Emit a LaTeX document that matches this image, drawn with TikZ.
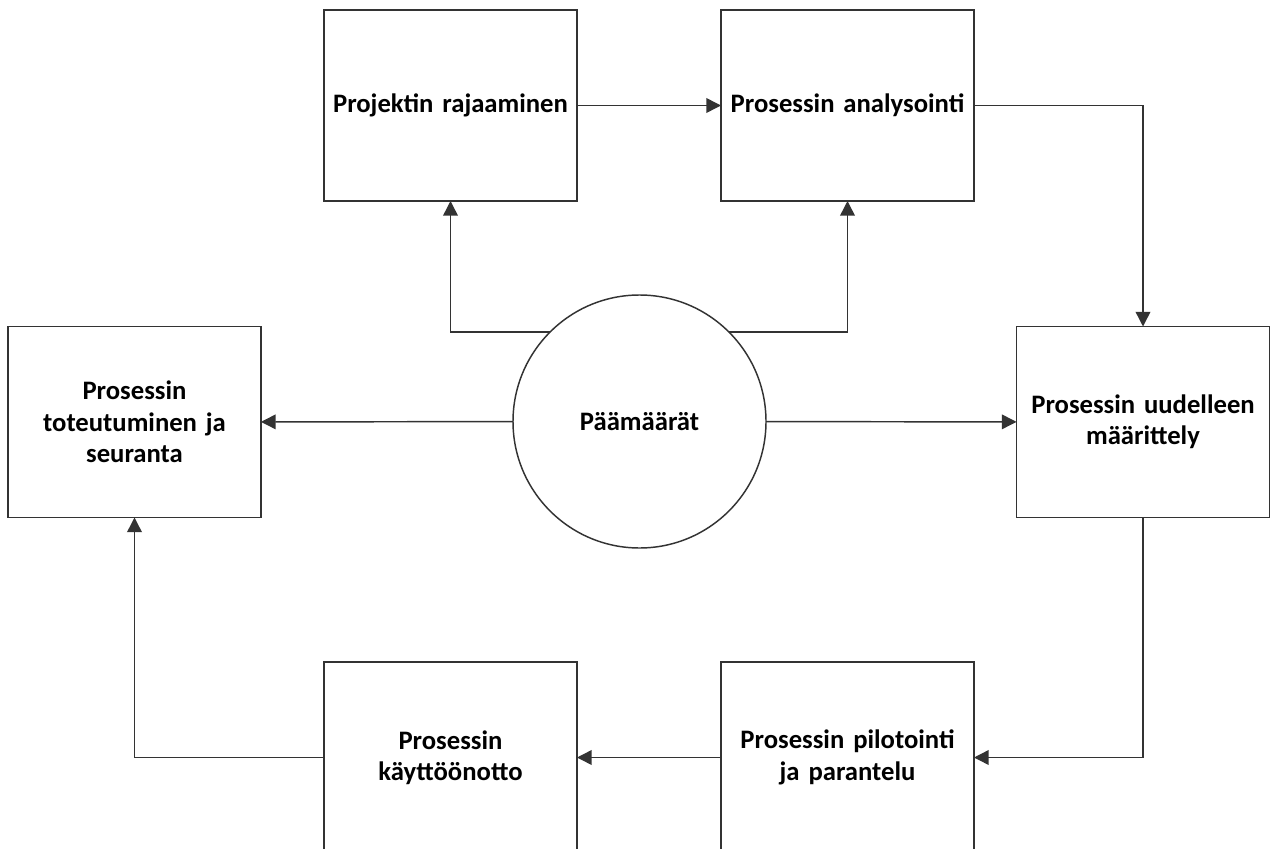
\documentclass[tikz,border=0pt]{standalone}
\usepackage{fontspec}
\setmainfont{Carlito}
\usepackage{tikz}
\usetikzlibrary{arrows.meta, positioning}
\usepackage{xcolor}

\begin{document}
\begin{tikzpicture}[
    x=0.75pt, y=-0.75pt,
    block/.style={
        rectangle,
        draw=black!80,
        line width=1.2pt,
        fill=white,
        text width=186pt,
        align=center,
        minimum width=189.75pt,
        minimum height=143.25pt,
        inner sep=0pt,
        outer sep=0pt,
        font=\fontsize{20}{23.5}\selectfont\bfseries
    },
    goal/.style={
        circle,
        draw=black!80,
        line width=1.1pt,
        minimum size=189.75pt,
        inner sep=0pt,
        outer sep=0pt,
        font=\fontsize{20}{23.5}\selectfont\bfseries
    },
    arrow/.style={-{Triangle[length=11pt,width=11pt]}, draw=black!80, line width=1.1pt}
]

\clip (0,0) rectangle (1271,849);
\fill[white] (0,0) rectangle (1271,849);

% Goal in the middle
\node[goal] (goal) at (639.5,421.5) {Päämäärät};

% Top row
\node[block] (scope) at (450.5,105.5) {Projektin rajaaminen};
\node[block] (analysis) at (847.5,105.5) {Prosessin analysointi};

% Middle row
\node[block] (tracking) at (134.5,422) {Prosessin\\
toteutuminen ja\\
seuranta};
\node[block] (redefine) at (1143,422) {Prosessin uudelleen\\
määrittely};

% Bottom row (cut off by the page)
\node[block] (deploy) at (450.5,757.5) {Prosessin\\
käyttöönotto};
\node[block] (pilot) at (847.5,757.5) {Prosessin pilotointi\\
ja parantelu};

% Arrows
\draw[arrow] (goal.135) -| (scope);
\draw[arrow] (goal.45) -| (analysis);
\draw[arrow] (goal) -- (tracking);
\draw[arrow] (goal) -- (redefine);
\draw[arrow] (scope) -- (analysis);
\draw[arrow] (analysis) -| (redefine);
\draw[arrow] (redefine) |- (pilot);
\draw[arrow] (pilot) -- (deploy);
\draw[arrow] (deploy) -| (tracking);

\end{tikzpicture}
\end{document}
